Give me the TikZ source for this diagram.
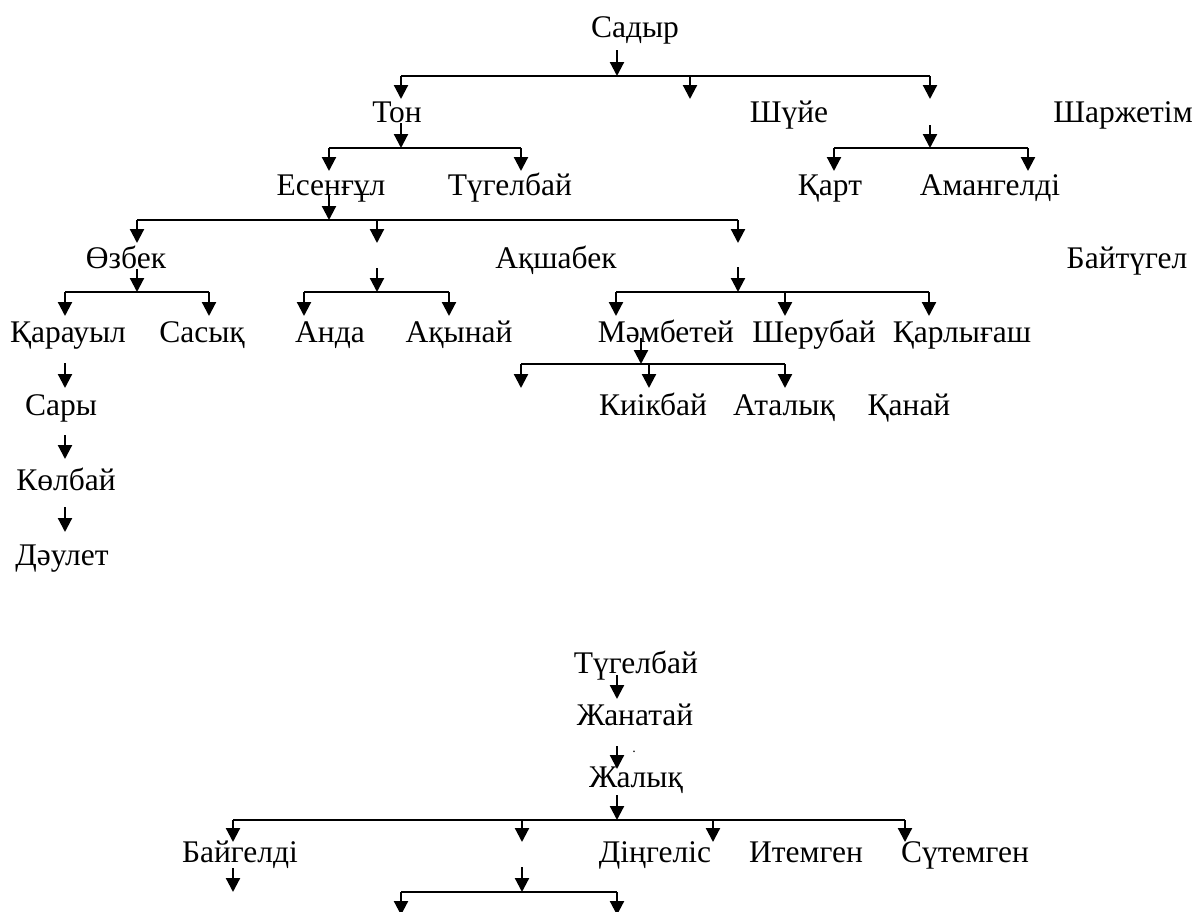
\documentclass[tikz,border=0pt]{standalone}
\usepackage{fontspec}
\setmainfont{Liberation Serif}
\usetikzlibrary{arrows.meta}
\tikzset{
  personlabel/.style={anchor=base,inner sep=0pt,font=\fontsize{31.5bp}{36bp}\selectfont},
  conn/.style={line width=2.2bp,-{Triangle[width=14bp,length=14bp]}},
  barline/.style={line width=2.2bp}
}
\begin{document}
\begin{tikzpicture}[x=1bp,y=-1bp]
\useasboundingbox (0,0) rectangle (1197,912);
% ---------- texts ----------
\node[personlabel] (sadyr) at (635,37) {Садыр};
\node[personlabel] (ton) at (397,122) {Тон};
\node[personlabel] (shuye) at (789,122) {Шүйе};
\node[personlabel] (sharzhetim) at (1123,122) {Шаржетім};
\node[personlabel] (esengul) at (331,195) {Есенғұл};
\node[personlabel] (tugelbay) at (510,195) {Түгелбай};
\node[personlabel] (kart) at (830,195) {Қарт};
\node[personlabel] (amangeldi) at (990,195) {Амангелді};
\node[personlabel] (ozbek) at (126,268) {Өзбек};
\node[personlabel] (akshabek) at (556,268) {Ақшабек};
\node[personlabel] (baytugel) at (1127,268) {Байтүгел};
\node[personlabel] (karauyl) at (68,342) {Қарауыл};
\node[personlabel] (sasyk) at (202,342) {Сасық};
\node[personlabel] (anda) at (330,342) {Анда};
\node[personlabel] (akynay) at (459,342) {Ақынай};
\node[personlabel] (mambetey) at (666,342) {Мәмбетей};
\node[personlabel] (sherubay) at (814,342) {Шерубай};
\node[personlabel] (karlygash) at (962,342) {Қарлығаш};
\node[personlabel] (sary) at (61,415) {Сары};
\node[personlabel] (kiikbay) at (653,415) {Киікбай};
\node[personlabel] (atalyk) at (784,415) {Аталық};
\node[personlabel] (kanay) at (909,415) {Қанай};
\node[personlabel] (kolbay) at (66,490) {Көлбай};
\node[personlabel] (daulet) at (62,565) {Дәулет};
\node[personlabel] (tugelbay2) at (636,673) {Түгелбай};
\node[personlabel] (zhanatay) at (635,725) {Жанатай};
\node[personlabel] (zhalyk) at (636,787) {Жалық};
\node[personlabel] (baygeldi) at (240,862) {Байгелді};
\node[personlabel] (dingelis) at (655,862) {Діңгеліс};
\node[personlabel] (itemgen) at (806,862) {Итемген};
\node[personlabel] (sutemgen) at (965,862) {Сүтемген};
\node[inner sep=0pt,font=\fontsize{14bp}{14bp}\selectfont] (dot) at (634,752) {.};
% ---------- coordinates ----------
\coordinate (s0) at (617,50);
\coordinate (b1m) at (617,76);
\coordinate (b1a) at (401,76);
\coordinate (b1b) at (690,76);
\coordinate (b1c) at (930,76);
\coordinate (t1a) at (401,99);
\coordinate (t1b) at (690,99);
\coordinate (t1c) at (930,99);
\coordinate (s2a) at (401,123);
\coordinate (b2a) at (401,148);
\coordinate (b2l) at (329,148);
\coordinate (b2r) at (521,148);
\coordinate (t2l) at (329,171);
\coordinate (t2r) at (521,171);
\coordinate (s2b) at (930,125);
\coordinate (b2b) at (930,148);
\coordinate (b2bl) at (834,148);
\coordinate (b2br) at (1028,148);
\coordinate (t2bl) at (834,171);
\coordinate (t2br) at (1028,171);
\coordinate (s3) at (329,195);
\coordinate (b3) at (329,220);
\coordinate (b3a) at (137,220);
\coordinate (b3b) at (377,220);
\coordinate (b3c) at (738,220);
\coordinate (t3a) at (137,243);
\coordinate (t3b) at (377,243);
\coordinate (t3c) at (738,243);
\coordinate (s4a) at (137,269);
\coordinate (b4a) at (137,292);
\coordinate (b4al) at (65,292);
\coordinate (b4ar) at (209,292);
\coordinate (t4al) at (65,316);
\coordinate (t4ar) at (209,316);
\coordinate (s4b) at (377,268);
\coordinate (b4b) at (377,292);
\coordinate (b4bl) at (304,292);
\coordinate (b4br) at (449,292);
\coordinate (t4bl) at (304,316);
\coordinate (t4br) at (449,316);
\coordinate (s4c) at (738,267);
\coordinate (b4c) at (738,292);
\coordinate (b4cl) at (616,292);
\coordinate (b4cm) at (785,292);
\coordinate (b4cr) at (929,292);
\coordinate (t4cl) at (616,316);
\coordinate (t4cm) at (785,316);
\coordinate (t4cr) at (929,316);
\coordinate (s5) at (641,338);
\coordinate (b5) at (641,364);
\coordinate (b5l) at (521,364);
\coordinate (b5m) at (649,364);
\coordinate (b5r) at (785,364);
\coordinate (t5l) at (521,388);
\coordinate (t5m) at (649,388);
\coordinate (t5r) at (785,388);
\coordinate (c1s) at (65,363);
\coordinate (c1t) at (65,388);
\coordinate (c2s) at (65,435);
\coordinate (c2t) at (65,459);
\coordinate (c3s) at (65,507);
\coordinate (c3t) at (65,532);
\coordinate (l1s) at (617,675);
\coordinate (l1t) at (617,699);
\coordinate (l2s) at (617,746);
\coordinate (l2t) at (617,769);
\coordinate (l3s) at (617,795);
\coordinate (l3b) at (617,820);
\coordinate (l3a) at (233,820);
\coordinate (l3c) at (522,820);
\coordinate (l3d) at (713,820);
\coordinate (l3e) at (905,820);
\coordinate (l3ta) at (233,842);
\coordinate (l3tc) at (522,842);
\coordinate (l3td) at (713,842);
\coordinate (l3te) at (905,842);
\coordinate (l4as) at (233,868);
\coordinate (l4at) at (233,892);
\coordinate (l4bs) at (522,867);
\coordinate (l4b) at (522,892);
\coordinate (l4bl) at (401,892);
\coordinate (l4br) at (617,892);
\coordinate (l4tl) at (401,915);
\coordinate (l4tr) at (617,915);
% ---------- connectors ----------
\draw[conn] (s0) -- (b1m);
\draw[barline] (b1a) -- (b1c);
\draw[conn] (b1a) -- (t1a);
\draw[conn] (b1b) -- (t1b);
\draw[conn] (b1c) -- (t1c);
\draw[conn] (s2a) -- (b2a);
\draw[barline] (b2l) -- (b2r);
\draw[conn] (b2l) -- (t2l);
\draw[conn] (b2r) -- (t2r);
\draw[conn] (s2b) -- (b2b);
\draw[barline] (b2bl) -- (b2br);
\draw[conn] (b2bl) -- (t2bl);
\draw[conn] (b2br) -- (t2br);
\draw[conn] (s3) -- (b3);
\draw[barline] (b3a) -- (b3c);
\draw[conn] (b3a) -- (t3a);
\draw[conn] (b3b) -- (t3b);
\draw[conn] (b3c) -- (t3c);
\draw[conn] (s4a) -- (b4a);
\draw[barline] (b4al) -- (b4ar);
\draw[conn] (b4al) -- (t4al);
\draw[conn] (b4ar) -- (t4ar);
\draw[conn] (s4b) -- (b4b);
\draw[barline] (b4bl) -- (b4br);
\draw[conn] (b4bl) -- (t4bl);
\draw[conn] (b4br) -- (t4br);
\draw[conn] (s4c) -- (b4c);
\draw[barline] (b4cl) -- (b4cr);
\draw[conn] (b4cl) -- (t4cl);
\draw[conn] (b4cm) -- (t4cm);
\draw[conn] (b4cr) -- (t4cr);
\draw[conn] (s5) -- (b5);
\draw[barline] (b5l) -- (b5r);
\draw[conn] (b5l) -- (t5l);
\draw[conn] (b5m) -- (t5m);
\draw[conn] (b5r) -- (t5r);
\draw[conn] (c1s) -- (c1t);
\draw[conn] (c2s) -- (c2t);
\draw[conn] (c3s) -- (c3t);
\draw[conn] (l1s) -- (l1t);
\draw[conn] (l2s) -- (l2t);
\draw[conn] (l3s) -- (l3b);
\draw[barline] (l3a) -- (l3e);
\draw[conn] (l3a) -- (l3ta);
\draw[conn] (l3c) -- (l3tc);
\draw[conn] (l3d) -- (l3td);
\draw[conn] (l3e) -- (l3te);
\draw[conn] (l4as) -- (l4at);
\draw[conn] (l4bs) -- (l4b);
\draw[barline] (l4bl) -- (l4br);
\draw[conn] (l4bl) -- (l4tl);
\draw[conn] (l4br) -- (l4tr);
\end{tikzpicture}
\end{document}
